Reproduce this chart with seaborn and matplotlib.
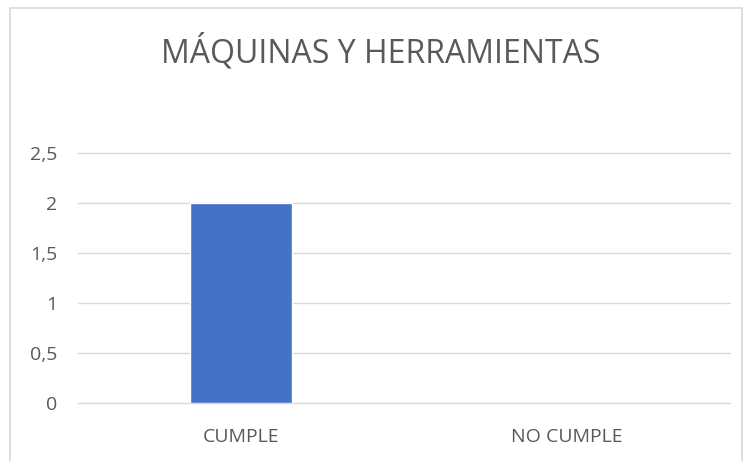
import matplotlib
matplotlib.use("Agg")
import matplotlib.pyplot as plt
import seaborn as sns
import pandas as pd
from matplotlib.patches import Rectangle

categories = ["CUMPLE", "NO CUMPLE"]
values = [2, 0]
yticks = [0, 0.5, 1, 1.5, 2, 2.5]
ytick_labels = ["0", "0,5", "1", "1,5", "2", "2,5"]

sns.set_style("white")
plt.rcParams["font.family"] = ["Open Sans", "DejaVu Sans"]

df = pd.DataFrame({"cat": categories, "val": values})

fig = plt.figure(figsize=(7.5, 4.61), dpi=100)
ax = fig.add_axes([0.104, 0.126, 0.869, 0.542])

sns.barplot(data=df, x="cat", y="val", color="#4472C4", width=0.313,
            saturation=1, ax=ax, zorder=3)

ax.set_ylim(0, 2.5)
ax.set_yticks(yticks)
ax.set_yticklabels(ytick_labels)
ax.yaxis.grid(True, color="#D9D9D9", linewidth=1)
for gl in ax.get_ygridlines():
    gl.set_clip_on(False)
ax.set_axisbelow(True)
for s in ax.spines.values():
    s.set_visible(False)
ax.tick_params(axis="both", length=0, labelsize=14, colors="#595959")
ax.tick_params(axis="x", pad=18)
ax.tick_params(axis="y", pad=15)
ax.set_xlabel("")
ax.set_ylabel("")

fig.text(0.508, 0.887, "MÁQUINAS Y HERRAMIENTAS", ha="center", va="center",
         fontsize=23, color="#595959")

# chart-area outline
fig.patches.append(Rectangle((10 / 750, -0.02), 732 / 750, 1.0 - 8 / 461 + 0.02,
                             transform=fig.transFigure, fill=False,
                             edgecolor="#D9D9D9", linewidth=1.2))

fig.savefig("out.png", dpi=100)
